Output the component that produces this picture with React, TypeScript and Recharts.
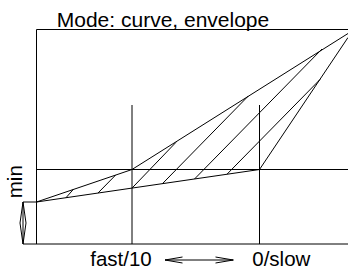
import React from "react";
import { ComposedChart, XAxis, YAxis, ReferenceLine, ReferenceDot } from "recharts";

// diagram units: x to the right from the left frame, y up from the bottom line
const frameTop = 214.5;
const frameRight = 311.5;
const axisLeft = -13.5;
const minLevel = 42;
const crossLevel = 74.5;
const guideXs = [95.5, 223];
const guideTop = 139;

const lowerEnvelope = [
    { x: 0, y: 42 },
    { x: 223, y: 74.5 },
];
const upperCurve = [
    { x: 0, y: 42 },
    { x: 95.5, y: 74.5 },
    { x: 311.5, y: 210.5 },
];
const rightEdge = [
    { x: 223, y: 74.5 },
    { x: 311.5, y: 206.5 },
];

// hatching: start on the lower envelope, end on the upper curve / right edge
const hatchFrom = [
    { x: 29.5, y: 46.3 },
    { x: 61.5, y: 51 },
    { x: 95.5, y: 55.9 },
    { x: 126, y: 60.4 },
    { x: 158, y: 65 },
    { x: 190.5, y: 69.8 },
];
const hatchTo = [
    { x: 36.9, y: 54.7 },
    { x: 79, y: 68.8 },
    { x: 139.5, y: 101.7 },
    { x: 211.8, y: 148 },
    { x: 285.5, y: 195 },
    { x: 283.5, y: 164.5 },
];

const titleText = "Mode: curve, envelope";
const bottomLabels = [
    { text: "fast/10", x: 84.5 },
    { text: "0/slow", x: 244.8 },
];
const minLabel = { text: "min", x: -21.5, y: 62.3 };

const toSegments = (pts: { x: number; y: number }[]) =>
    pts.slice(1).map((p, i) => [pts[i], p]);

const font = "Liberation Sans, Arial, sans-serif";

// rotated label drawn around the dot's centre
const RotatedLabel = (props: any) => {
    const vb = props.viewBox || {};
    const cx = vb.x + (vb.width || 0) / 2;
    const cy = vb.y + (vb.height || 0) / 2;
    return (
        <text x={cx} y={cy} dy="0.355em" textAnchor="middle" fontSize={20.5} fill="#000"
            fontFamily={font} transform={`rotate(-90 ${cx} ${cy})`}>
            {minLabel.text}
        </text>
    );
};

const App = () => {
    const segs: any[] = [
        // frame
        [{ x: 0, y: frameTop }, { x: frameRight, y: frameTop }],
        [{ x: 0, y: 0 }, { x: 0, y: frameTop }],
        [{ x: axisLeft, y: 0 }, { x: frameRight, y: 0 }],
        [{ x: axisLeft, y: minLevel }, { x: 0, y: minLevel }],
        [{ x: 0, y: crossLevel }, { x: frameRight, y: crossLevel }],
        ...guideXs.map((gx) => [{ x: gx, y: 0 }, { x: gx, y: guideTop }]),
        ...toSegments(lowerEnvelope),
        ...toSegments(upperCurve),
        ...toSegments(rightEdge),
        ...hatchFrom.map((p, i) => [p, hatchTo[i]]),
        // vertical double arrow next to "min"
        [{ x: axisLeft, y: 0 }, { x: axisLeft, y: minLevel }],
        [{ x: axisLeft, y: minLevel }, { x: axisLeft - 3, y: 21 }],
        [{ x: axisLeft - 3, y: 21 }, { x: axisLeft, y: 0 }],
        [{ x: axisLeft, y: minLevel }, { x: axisLeft + 3, y: 21 }],
        [{ x: axisLeft + 3, y: 21 }, { x: axisLeft, y: 0 }],
        // horizontal double arrow between the bottom labels
        [{ x: 128.5, y: -16 }, { x: 196.8, y: -16 }],
        [{ x: 128.5, y: -16 }, { x: 146, y: -13 }],
        [{ x: 128.5, y: -16 }, { x: 146, y: -19 }],
        [{ x: 196.8, y: -16 }, { x: 179, y: -13 }],
        [{ x: 196.8, y: -16 }, { x: 179, y: -19 }],
    ];

    return (
        <div style={{ position: "absolute", left: 0, top: 0, background: "#fff" }}>
            <ComposedChart width={348} height={269} data={lowerEnvelope} margin={{ top: 0, right: 0, bottom: 0, left: 0 }}>
                <XAxis type="number" dataKey="x" domain={[-36.5, 311.5]} hide allowDataOverflow />
                <YAxis type="number" dataKey="y" domain={[-25, 244]} hide allowDataOverflow />
                {segs.map((s, i) => (
                    <ReferenceLine key={i} segment={s} stroke="#000" strokeWidth={1} ifOverflow="visible" />
                ))}
                <ReferenceDot x={126.5} y={224.4} r={0} stroke="none" fill="none"
                    label={{ value: titleText, position: "center", fontSize: 21, fill: "#000", fontFamily: font }} />
                {bottomLabels.map((l) => (
                    <ReferenceDot key={l.text} x={l.x} y={-15.2} r={0} stroke="none" fill="none"
                        label={{ value: l.text, position: "center", fontSize: 20.5, fill: "#000", fontFamily: font }} />
                ))}
                <ReferenceDot x={minLabel.x} y={minLabel.y} r={0} stroke="none" fill="none"
                    label={{ content: RotatedLabel }} />
            </ComposedChart>
        </div>
    );
};

export default App;
